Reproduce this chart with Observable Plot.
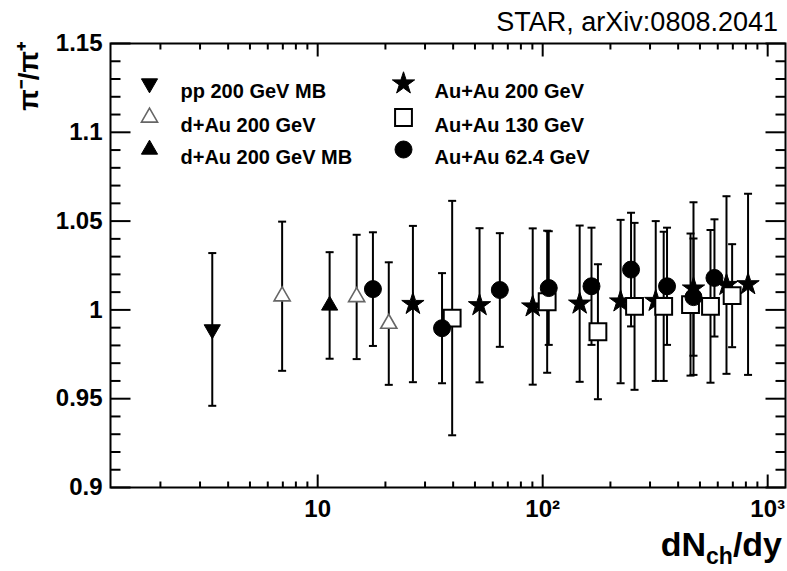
<!DOCTYPE html>
<html><head><meta charset="utf-8">
<script src="https://cdn.jsdelivr.net/npm/d3@7"></script>
<script src="https://cdn.jsdelivr.net/npm/@observablehq/plot@0.6"></script>
<style>body{margin:0;background:#fff;}</style>
</head><body><div id="chart"></div>
<script>
// ---- data ----
const ppX = [3.4], ppY = [0.989], ppErr = [0.043];
const dAuX = [6.95, 14.9, 20.7], dAuY = [1.0077, 1.0073, 0.9923], dAuErr = [0.042, 0.035, 0.0345];
const dAuMBX = [11.3], dAuMBY = [1.0025], dAuMBErr = [0.030];
const au200X = [26.5, 52.4, 90.3, 146, 222, 318, 468, 656, 818];
const au200Y = [1.0033, 1.0026, 1.0019, 1.0035, 1.0047, 1.005, 1.012, 1.014, 1.0144];
const au200Err = [0.044, 0.0434, 0.044, 0.044, 0.046, 0.045, 0.0486, 0.05, 0.051];
const au130X = [39.6, 104.7, 176, 256, 345, 454, 557, 695];
const au130Y = [0.9954, 1.0046, 0.9877, 1.002, 1.002, 1.003, 1.002, 1.008];
const au130Err = [0.066, 0.040, 0.038, 0.047, 0.042, 0.04, 0.043, 0.029];
const au62X = [17.6, 35.7, 64.5, 106.4, 164.8, 247, 357, 468, 580];
const au62Y = [1.0117, 0.9897, 1.0112, 1.0123, 1.0133, 1.0227, 1.0133, 1.0072, 1.018];
const au62Err = [0.032, 0.031, 0.032, 0.032, 0.033, 0.032, 0.033, 0.033, 0.033];

const seriesNames = ["pp 200 GeV MB", "d+Au 200 GeV", "d+Au 200 GeV MB", "Au+Au 200 GeV", "Au+Au 130 GeV", "Au+Au 62.4 GeV"];
const yTicks = [0.9, 0.95, 1, 1.05, 1.1, 1.15];
const yTickLabels = ["0.9", "0.95", "1", "1.05", "1.1", "1.15"];
const xTicks = [10, 100, 1000];
const xTickLabels = ["10", "10²", "10³"];
const titleText = "STAR, arXiv:0808.2041";
const yLabel = "π⁻/π⁺";

// ---- styles ----
const FONT = "'Liberation Sans', Arial, Helvetica, sans-serif";
const styles = [
  {symbol: "triangle", rotate: 180, r: 6, fill: "black", stroke: "black", strokeWidth: 1},
  {symbol: "triangle", rotate: 0, r: 6, fill: "white", stroke: "#666", strokeWidth: 1.6},
  {symbol: "triangle", rotate: 0, r: 6, fill: "black", stroke: "black", strokeWidth: 1},
  {symbol: "star", rotate: 0, r: 7, fill: "black", stroke: "black", strokeWidth: 1},
  {symbol: "square", rotate: 0, r: 9.5, fill: "white", stroke: "black", strokeWidth: 2},
  {symbol: "circle", rotate: 0, r: 8.5, fill: "black", stroke: "black", strokeWidth: 1}
];
const raw = [[ppX, ppY, ppErr], [dAuX, dAuY, dAuErr], [dAuMBX, dAuMBY, dAuMBErr],
             [au200X, au200Y, au200Err], [au130X, au130Y, au130Err], [au62X, au62Y, au62Err]];
const series = raw.map(([X, Y, E], k) => ({name: seriesNames[k], style: styles[k],
  data: X.map((x, i) => ({x, y: Y[i], e: E[i]}))}));
const allPts = series.flatMap(s => s.data);

const lineSym = (x1, y1, x2, y2) => ({draw(ctx) { ctx.moveTo(x1, y1); ctx.lineTo(x2, y2); }});

const yMinor = d3.range(90, 116).filter(d => d % 5 !== 0).map(d => d / 100);
const xMinor = [1, 10, 100].flatMap(dec => d3.range(2, 10).map(k => k * dec));

const tickCommon = {fill: "none", stroke: "black", strokeWidth: 2, r: 1};

// legend layout
const legCol = [{m: 39, t: 70}, {m: 293, t: 324}];
const legRow = [40, 74, 106];

const marks = [
  Plot.frame({stroke: "black", strokeWidth: 2}),
  // inward ticks
  Plot.dot(yMinor, {y: d => d, frameAnchor: "left", symbol: lineSym(0, 0, 10, 0), ...tickCommon}),
  Plot.dot(yTicks, {y: d => d, frameAnchor: "left", symbol: lineSym(0, 0, 20, 0), ...tickCommon}),
  Plot.dot(yMinor, {y: d => d, frameAnchor: "right", symbol: lineSym(0, 0, -10, 0), ...tickCommon}),
  Plot.dot(yTicks, {y: d => d, frameAnchor: "right", symbol: lineSym(0, 0, -20, 0), ...tickCommon}),
  Plot.dot(xMinor, {x: d => d, frameAnchor: "bottom", symbol: lineSym(0, 0, 0, -6), ...tickCommon}),
  Plot.dot(xTicks, {x: d => d, frameAnchor: "bottom", symbol: lineSym(0, 0, 0, -13), ...tickCommon}),
  Plot.dot(xMinor, {x: d => d, frameAnchor: "top", symbol: lineSym(0, 0, 0, 6), ...tickCommon}),
  Plot.dot(xTicks, {x: d => d, frameAnchor: "top", symbol: lineSym(0, 0, 0, 13), ...tickCommon}),
  // tick labels
  Plot.text(yTicks, {y: d => d, text: (d, i) => yTickLabels[i], frameAnchor: "left", textAnchor: "end",
    dx: -8, fontSize: 24, fontWeight: "bold", fill: "black"}),
  Plot.text(xTicks, {x: d => d, text: (d, i) => xTickLabels[i], frameAnchor: "bottom", lineAnchor: "top",
    dy: 12, fontSize: 24, fontWeight: "bold", fill: "black"}),
  // error bars
  Plot.ruleX(allPts, {x: "x", y1: d => d.y - d.e, y2: d => d.y + d.e, stroke: "black", strokeWidth: 2}),
  Plot.dot(allPts, {x: "x", y: d => d.y - d.e, symbol: lineSym(-4, 0, 4, 0), ...tickCommon}),
  Plot.dot(allPts, {x: "x", y: d => d.y + d.e, symbol: lineSym(-4, 0, 4, 0), ...tickCommon}),
  // markers
  ...series.map(s => Plot.dot(s.data, {x: "x", y: "y", ...s.style})),
  // legend
  ...series.flatMap((s, k) => {
    const col = legCol[Math.floor(k / 3)], row = legRow[k % 3];
    return [
      Plot.dot([s.name], {frameAnchor: "top-left", dx: col.m, dy: row, ...s.style}),
      Plot.text([s.name], {text: d => d, frameAnchor: "top-left", dx: col.t, dy: row, textAnchor: "start",
        fontSize: 20, fontWeight: "bold", fill: "black"})
    ];
  })
];

const chart = Plot.plot({
  width: 787, height: 571,
  marginLeft: 110, marginRight: 2, marginTop: 43, marginBottom: 84,
  x: {type: "log", domain: [1.2, 1200], axis: null},
  y: {domain: [0.9, 1.15], axis: null},
  style: {fontFamily: FONT, background: "white", overflow: "visible"},
  marks
});
document.getElementById("chart").appendChild(chart);

// title & axis labels as real text
const svg = d3.select(chart);
svg.append("text").attr("x", 778).attr("y", 31).attr("text-anchor", "end")
  .style("font-family", FONT).style("font-size", "27px").attr("fill", "black").text(titleText);
svg.append("text").attr("transform", "translate(38,42) rotate(-90)").attr("text-anchor", "end")
  .style("font-family", FONT).style("font-size", "28px").style("font-weight", "bold").attr("fill", "black").text(yLabel);
const xl = svg.append("text").attr("x", 782).attr("y", 556).attr("text-anchor", "end")
  .style("font-family", FONT).style("font-size", "34px").style("font-weight", "bold").attr("fill", "black");
xl.append("tspan").text("dN");
xl.append("tspan").attr("dy", 8).style("font-size", "23px").text("ch");
xl.append("tspan").attr("dy", -8).text("/dy");
</script></body></html>
